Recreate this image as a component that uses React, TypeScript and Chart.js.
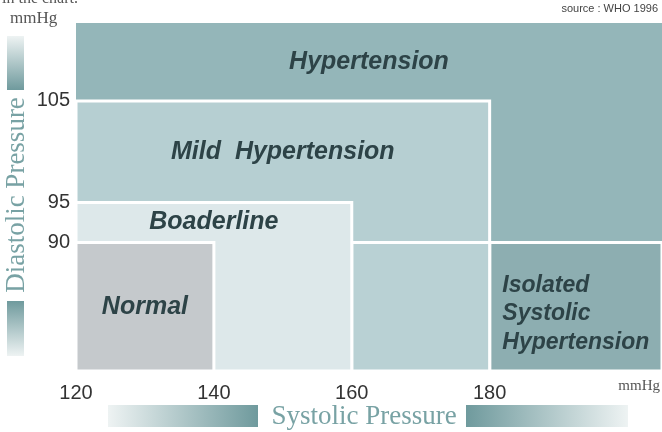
import React, { useEffect, useRef } from 'react';
import { Chart, registerables, LinearScale } from 'chart.js';

Chart.register(...registerables);

// ---- Data ----
const X_MIN = 120;
const X_MAX = 205;
const Y_MIN = 80;
const Y_MAX = 115;
const X_TICKS = [120, 140, 160, 180];
const Y_TICKS = [90, 95, 105];
// schematic (non-uniform) spacing of the diastolic axis: [value, fraction of axis]
const Y_STOPS: [number, number][] = [[80, 0], [90, 0.369], [95, 0.484], [105, 0.776], [115, 1]];

const REGION_NAMES = ['Hypertension', 'Isolated Systolic Hypertension', 'Mild Hypertension', 'Mild Hypertension (low diastolic)', 'Boaderline', 'Normal'];
const REGION_X: [number, number][] = [[120, 205], [180, 205], [120, 180], [160, 180], [120, 160], [120, 140]];
const REGION_Y: [number, number][] = [[80, 115], [80, 90], [80, 105], [80, 90], [80, 95], [80, 90]];
const REGION_COLORS = ['#94b6b9', '#8daeb1', '#b6cfd2', '#b9d1d4', '#dde8ea', '#c5c9cc'];
const REGION_BORDER = [0, 3, 3, 3, 3, 3];

const LABEL_LINES = [['Hypertension'], ['Mild  Hypertension'], ['Boaderline'], ['Normal'], ['Isolated', 'Systolic', 'Hypertension']];
const LABEL_X: [number, number][] = [[120, 205], [120, 180], [120, 160], [120, 140], [180, 205]];
const LABEL_Y: [number, number][] = [[105, 115], [95, 105], [90, 95], [80, 90], [80, 90]];
const LABEL_SIZES = [25, 25, 25, 25, 23];

class PiecewiseScale extends LinearScale {
  static id = 'piecewise';
  static defaults = (LinearScale as any).defaults;
  toDecimal(v: number) {
    const s = Y_STOPS;
    if (v <= s[0][0]) return s[0][1];
    for (let i = 1; i < s.length; i++) {
      if (v <= s[i][0]) {
        const [v0, f0] = s[i - 1];
        const [v1, f1] = s[i];
        return f0 + ((v - v0) / (v1 - v0)) * (f1 - f0);
      }
    }
    return s[s.length - 1][1];
  }
  getPixelForValue(value: number) {
    return (this as any).getPixelForDecimal(this.toDecimal(value));
  }
  getValueForPixel(pixel: number) {
    const d = (this as any).getDecimalForPixel(pixel);
    const s = Y_STOPS;
    for (let i = 1; i < s.length; i++) {
      if (d <= s[i][1]) {
        const [v0, f0] = s[i - 1];
        const [v1, f1] = s[i];
        return v0 + ((d - f0) / (f1 - f0)) * (v1 - v0);
      }
    }
    return s[s.length - 1][0];
  }
}
Chart.register(PiecewiseScale as any);

const decorations = {
  id: 'decorations',
  afterDatasetsDraw(chart: any) {
    const ctx = chart.ctx;
    const xs = chart.scales.x;
    const ys = chart.scales.y;
    ctx.save();
    // region labels
    ctx.fillStyle = '#2d4347';
    LABEL_LINES.forEach((lines, i) => {
      const cx = (xs.getPixelForValue(LABEL_X[i][0]) + xs.getPixelForValue(LABEL_X[i][1])) / 2;
      const cy = (ys.getPixelForValue(LABEL_Y[i][0]) + ys.getPixelForValue(LABEL_Y[i][1])) / 2;
      const size = LABEL_SIZES[i];
      ctx.font = `italic bold ${size}px "Liberation Sans", Arial, sans-serif`;
      ctx.textBaseline = 'middle';
      const lh = size * 1.24;
      if (lines.length === 1) {
        ctx.textAlign = 'center';
        ctx.fillText(lines[0], cx, cy);
      } else {
        const w = Math.max(...lines.map((l) => ctx.measureText(l).width));
        ctx.textAlign = 'left';
        const y0 = cy - ((lines.length - 1) * lh) / 2 + 7;
        lines.forEach((l, k) => ctx.fillText(l, cx - w / 2, y0 + k * lh));
      }
    });
    ctx.restore();
  },
  afterDraw(chart: any) {
    const ctx = chart.ctx;
    ctx.save();
    // top cut-off text
    ctx.fillStyle = '#555';
    ctx.font = '16px "Liberation Serif", serif';
    ctx.textAlign = 'left';
    ctx.textBaseline = 'alphabetic';
    ctx.fillText('in the chart.', 2, 3);
    // source
    ctx.fillStyle = '#444';
    ctx.font = '11px "Liberation Sans", Arial, sans-serif';
    ctx.textAlign = 'right';
    ctx.textBaseline = 'middle';
    ctx.fillText('source : WHO 1996', 658, 9);
    // mmHg labels
    ctx.fillStyle = '#555';
    ctx.font = '17px "Liberation Serif", serif';
    ctx.textAlign = 'left';
    ctx.fillText('mmHg', 10, 19);
    ctx.font = '15px "Liberation Serif", serif';
    ctx.textAlign = 'right';
    ctx.fillText('mmHg', 660, 386);
    // left gradient bars
    let g = ctx.createLinearGradient(0, 36, 0, 90);
    g.addColorStop(0, '#eef3f3');
    g.addColorStop(1, '#6f9a9d');
    ctx.fillStyle = g;
    ctx.fillRect(7, 36, 17, 54);
    g = ctx.createLinearGradient(0, 301, 0, 356);
    g.addColorStop(0, '#6f9a9d');
    g.addColorStop(1, '#eef3f3');
    ctx.fillStyle = g;
    ctx.fillRect(7, 301, 17, 55);
    // Diastolic title
    ctx.save();
    ctx.translate(17, 195);
    ctx.rotate(-Math.PI / 2);
    ctx.fillStyle = '#78a2a4';
    ctx.font = '27px "Liberation Serif", serif';
    ctx.textAlign = 'center';
    ctx.textBaseline = 'middle';
    ctx.fillText('Diastolic Pressure', 0, 0);
    ctx.restore();
    // bottom gradient bars
    g = ctx.createLinearGradient(108, 0, 258, 0);
    g.addColorStop(0, '#eef3f3');
    g.addColorStop(1, '#6f9a9d');
    ctx.fillStyle = g;
    ctx.fillRect(108, 405, 150, 22);
    g = ctx.createLinearGradient(466, 0, 628, 0);
    g.addColorStop(0, '#6f9a9d');
    g.addColorStop(1, '#eef3f3');
    ctx.fillStyle = g;
    ctx.fillRect(466, 405, 162, 22);
    ctx.fillStyle = '#78a2a4';
    ctx.font = '27px "Liberation Serif", serif';
    ctx.textAlign = 'center';
    ctx.textBaseline = 'middle';
    ctx.fillText('Systolic Pressure', 364, 417);
    ctx.restore();
  },
};

export default function App() {
  const ref = useRef<HTMLCanvasElement>(null);
  useEffect(() => {
    if (!ref.current) return;
    const datasets = REGION_NAMES.map((name, i) => {
      const [x0, x1] = REGION_X[i];
      const [y0, y1] = REGION_Y[i];
      return {
        label: name,
        data: [
          { x: x0, y: y0 },
          { x: x1, y: y0 },
          { x: x1, y: y1 },
          { x: x0, y: y1 },
          { x: x0, y: y0 },
        ],
        showLine: true,
        fill: 'shape',
        backgroundColor: REGION_COLORS[i],
        borderColor: '#ffffff',
        borderWidth: REGION_BORDER[i],
        pointRadius: 0,
        tension: 0,
        order: REGION_NAMES.length - i,
        clip: 0,
      };
    });
    const chart = new Chart(ref.current, {
      type: 'scatter',
      data: { datasets: datasets as any },
      options: {
        animation: false,
        responsive: false,
        devicePixelRatio: 1,
        layout: { padding: { top: 23, right: 0, left: 0, bottom: 0 } },
        plugins: { legend: { display: false }, tooltip: { enabled: false } },
        scales: {
          x: {
            type: 'linear',
            min: X_MIN,
            max: X_MAX,
            afterBuildTicks: (s: any) => {
              s.ticks = X_TICKS.map((v) => ({ value: v }));
            },
            afterFit: (s: any) => {
              s.height = 61;
            },
            grid: { display: false, drawTicks: false },
            border: { display: false },
            ticks: {
              padding: 10,
              color: '#333',
              font: { family: '"Liberation Sans", Arial, sans-serif', size: 20 },
              callback: (v: any) => String(v),
              maxRotation: 0,
              autoSkip: false,
            },
          },
          y: {
            type: 'piecewise' as any,
            min: Y_MIN,
            max: Y_MAX,
            afterBuildTicks: (s: any) => {
              s.ticks = Y_TICKS.map((v) => ({ value: v }));
            },
            afterFit: (s: any) => {
              s.width = 76;
            },
            grid: { display: false, drawTicks: false },
            border: { display: false },
            ticks: {
              padding: 6,
              color: '#333',
              font: { family: '"Liberation Sans", Arial, sans-serif', size: 20 },
              callback: (v: any) => String(v),
              autoSkip: false,
            },
          },
        },
      } as any,
      plugins: [decorations],
    });
    return () => chart.destroy();
  }, []);
  return (
    <div style={{ position: 'absolute', left: 0, top: 0, width: 662, height: 432, background: '#fff' }}>
      <canvas ref={ref} width={662} height={432} style={{ display: 'block' }} />
    </div>
  );
}
